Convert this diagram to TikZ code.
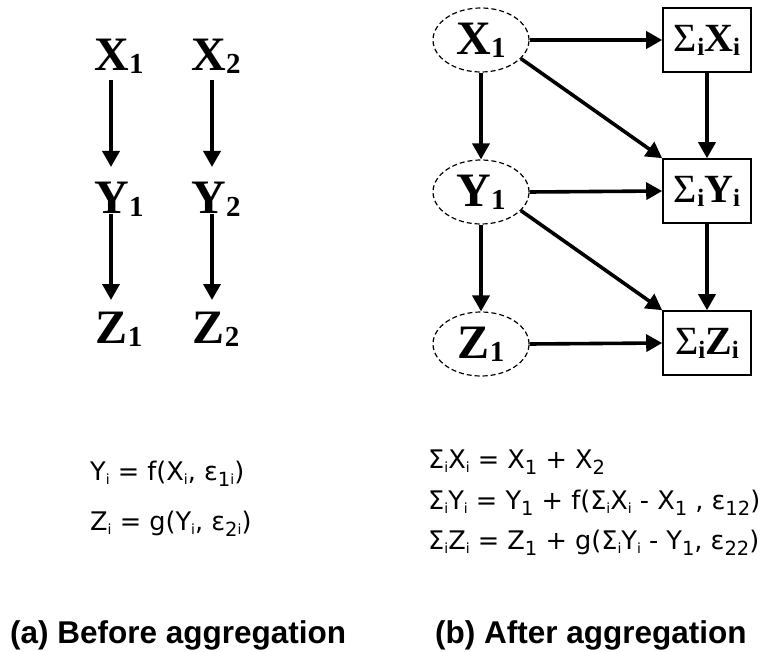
\documentclass[tikz,border=0pt]{standalone}
\usepackage{fontspec}
\setmainfont{Liberation Serif}
\newfontfamily\eqfont{DejaVu Sans}
\newfontfamily\capfont{Liberation Sans}
\usetikzlibrary{arrows.meta,shapes.geometric}

% bold node label with a numeric subscript
\newcommand\nodelab[2]{\fontsize{48}{48}\selectfont\bfseries #1\raisebox{-3pt}{\fontsize{29}{29}\selectfont #2}}
% summed node label
\newcommand\sumlab[1]{\fontsize{40}{40}\selectfont{\mdseries Σ}\raisebox{-4pt}{\bfseries\fontsize{25}{25}\selectfont i}\textbf{#1}\raisebox{-4pt}{\bfseries\fontsize{25}{25}\selectfont i}}
% subscripts in the equations
\newcommand\si{\raisebox{-4pt}{\fontsize{14}{14}\selectfont i}}
\newcommand\sn[1]{\raisebox{-6pt}{\fontsize{19.5}{19.5}\selectfont #1}}
\newcommand\Sg{Σ}

\begin{document}
\begin{tikzpicture}[x=1pt,y=-1pt,
  lab/.style={inner sep=0pt},
  latent/.style={draw,dashed,dash pattern=on 5pt off 3pt,line width=1.2pt,ellipse,
    minimum width=96pt,minimum height=64pt,inner sep=0pt},
  sumbox/.style={draw,line width=1.6pt,minimum width=88pt,minimum height=64pt,inner sep=0pt},
  arr/.style={line width=3.6pt,-{Triangle[length=16pt,width=17pt]}},
  eq/.style={anchor=base west,inner sep=0pt,font=\eqfont\fontsize{25.6}{25.6}\selectfont},
  captext/.style={anchor=base west,inner sep=0pt,font=\capfont\bfseries\fontsize{31.5}{31.5}\selectfont}]
\useasboundingbox (0,0) rectangle (762,652);

% (a) separate units
\node[lab] (x1) at (119,56) {\nodelab{X}{1}};
\node[lab] (x2) at (216,56) {\nodelab{X}{2}};
\node[lab] (y1) at (119,199) {\nodelab{Y}{1}};
\node[lab] (y2) at (216,199) {\nodelab{Y}{2}};
\node[lab] (z1) at (119,329) {\nodelab{Z}{1}};
\node[lab] (z2) at (216,329) {\nodelab{Z}{2}};
\coordinate (ax1) at (111,80);  \coordinate (ay1) at (111,167);
\coordinate (by1) at (111,214); \coordinate (bz1) at (111,300);
\coordinate (ax2) at (212,80);  \coordinate (ay2) at (212,167);
\coordinate (by2) at (212,214); \coordinate (bz2) at (212,300);
\draw[arr] (ax1) -- (ay1);
\draw[arr] (by1) -- (bz1);
\draw[arr] (ax2) -- (ay2);
\draw[arr] (by2) -- (bz2);

% (b) aggregated model
\node[latent] (ex) at (481,40) {\nodelab{X}{1}};
\node[latent] (ey) at (481,192) {\nodelab{Y}{1}};
\node[latent] (ez) at (481,344) {\nodelab{Z}{1}};
\node[sumbox] (sx) at (707,40) {\sumlab{X}};
\node[sumbox] (sy) at (707,191) {\sumlab{Y}};
\node[sumbox] (sz) at (707,343) {\sumlab{Z}};
\draw[arr] (ex.east) -- (sx.west);
\draw[arr] (ey.east) -- (sy.west);
\draw[arr] (ez.east) -- (sz.west);
\draw[arr] (ex.south) -- (ey.north);
\draw[arr] (ey.south) -- (ez.north);
\draw[arr] (sx.south) -- (sy.north);
\draw[arr] (sy.south) -- (sz.north);
\draw[arr] (ex.-25) -- (sy.north west);
\draw[arr] (ey.-25) -- (sz.north west);

% equations
\node[eq] (e1) at (90,480) {Y\si{} = f(X\si, ε\sn{1}\si)};
\node[eq] (e2) at (90,530) {Z\si{} = g(Y\si, ε\sn{2}\si)};
\node[eq] (e3) at (428,468) {\Sg\si X\si{} = X\sn{1} + X\sn{2}};
\node[eq] (e4) at (428,509) {\Sg\si Y\si{} = Y\sn{1} + f(\Sg\si X\si{} - X\sn{1} , ε\sn{12})};
\node[eq] (e5) at (428,549) {\Sg\si Z\si{} = Z\sn{1} + g(\Sg\si Y\si{} - Y\sn{1}, ε\sn{22})};

% captions
\node[captext] (ca) at (10,643) {(a) Before aggregation};
\node[captext] (cb) at (435,643) {(b) After aggregation};
\end{tikzpicture}
\end{document}
